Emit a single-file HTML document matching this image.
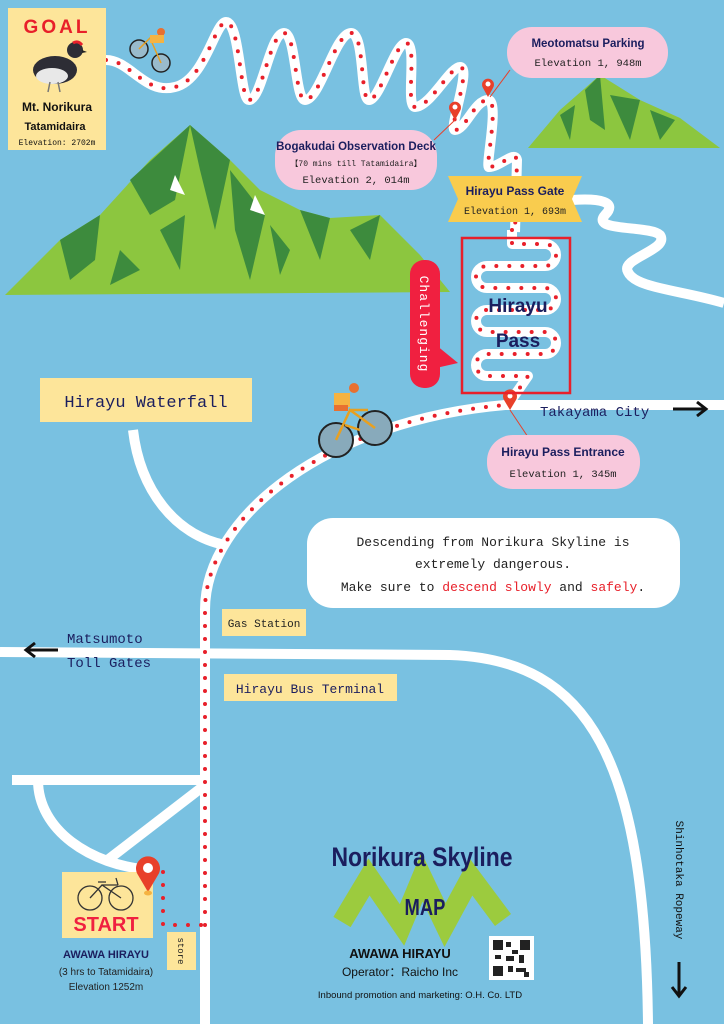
<!DOCTYPE html>
<html><head><meta charset="utf-8">
<style>
html,body{margin:0;padding:0;background:#79c1e1;}
svg{display:block}
.mono{font-family:"Liberation Mono","DejaVu Sans Mono",monospace;}
.sans{font-family:"Liberation Sans","DejaVu Sans",sans-serif;}
</style></head>
<body>
<svg width="724" height="1024" viewBox="0 0 724 1024" xmlns="http://www.w3.org/2000/svg">
<rect width="724" height="1024" fill="#79c1e1"/>

<!-- Mountains -->
<g>
<polygon points="5,295 60,240 100,215 150,160 190,125 230,160 260,190 300,210 330,218 380,215 420,255 450,292" fill="#8cc63f"/>
<polygon points="130,180 190,125 175,200 150,215" fill="#3d8b3d"/>
<polygon points="190,125 230,160 215,230 200,170" fill="#3d8b3d"/>
<polygon points="230,170 265,215 250,280 235,230" fill="#3d8b3d"/>
<polygon points="60,240 100,215 95,260 70,280" fill="#3d8b3d"/>
<polygon points="300,210 330,218 320,260" fill="#3d8b3d"/>
<polygon points="160,230 185,215 180,270" fill="#3d8b3d"/>
<polygon points="350,230 380,215 370,260" fill="#3d8b3d"/>
<polygon points="120,250 140,270 110,285" fill="#3d8b3d"/>
<polygon points="270,225 290,250 280,275" fill="#3d8b3d"/>
<polygon points="175,175 185,195 170,190" fill="#fff"/>
<polygon points="255,195 265,215 250,210" fill="#fff"/>
<polygon points="528,148 560,110 600,75 640,100 680,118 720,148" fill="#8cc63f"/>
<polygon points="585,90 600,75 605,130 590,120" fill="#3d8b3d"/>
<polygon points="610,95 640,100 630,140" fill="#3d8b3d"/>
<polygon points="560,115 575,105 570,140" fill="#3d8b3d"/>
<polygon points="650,110 675,120 660,140" fill="#3d8b3d"/>
</g>

<!-- Roads -->
<g fill="none" stroke="#fff" stroke-width="10" stroke-linecap="butt" stroke-linejoin="round">
<path d="M205,1024 L205,610 C205,515 330,420 505,405 L724,405"/>
<path d="M0,652 L450,655 C590,660 645,760 648,1024"/>
<path d="M12,780 L205,780"/>
<path d="M38,780 C38,830 90,865 150,870"/>
<path d="M205,785 L105,862"/>
<path d="M133,430 C140,490 175,535 225,545"/>
<path d="M572,200 C600,198 618,202 605,215 C590,232 650,225 660,235 C670,250 620,258 628,272 C635,288 680,290 724,303"/>
<path d="M106,60 C130,60 145,95 175,87 C205,80 215,22 226,22 C240,22 240,100 249,100 C262,100 270,33 284,33 C296,33 295,100 305,100 C320,100 335,33 351,33 C365,33 360,100 369,100 C380,100 395,43 406,43 C418,43 405,107 415,107 C430,107 450,67 460,67 C472,67 448,130 455,130 C465,130 475,100 488,100 C500,100 485,167 489,167 C500,167 515,150 517,160 L515,232"/>
<path d="M512,230 V244 H545 A11,11 0 0 1 545,266 H487 A11,11 0 0 0 487,288 H545 A11,11 0 0 1 545,310 H487 A11,11 0 0 0 487,332 H545 A11,11 0 0 1 545,354 H487 A11,11 0 0 0 487,376 H528 L510,402"/>
</g>
<!-- red dots -->
<g fill="none" stroke="#e8202a" stroke-width="4" stroke-linecap="round" stroke-dasharray="0 13">
<path d="M205,925 L205,610 C205,515 330,420 505,405"/>
<path d="M163,872 L163,925 L205,925"/>
<path d="M106,60 C130,60 145,95 175,87 C205,80 215,22 226,22 C240,22 240,100 249,100 C262,100 270,33 284,33 C296,33 295,100 305,100 C320,100 335,33 351,33 C365,33 360,100 369,100 C380,100 395,43 406,43 C418,43 405,107 415,107 C430,107 450,67 460,67 C472,67 448,130 455,130 C465,130 475,100 488,100 C500,100 485,167 489,167 C500,167 515,150 517,160 L515,232"/>
<path d="M512,230 V244 H545 A11,11 0 0 1 545,266 H487 A11,11 0 0 0 487,288 H545 A11,11 0 0 1 545,310 H487 A11,11 0 0 0 487,332 H545 A11,11 0 0 1 545,354 H487 A11,11 0 0 0 487,376 H528 L510,402"/>
</g>

<!-- GOAL box -->
<rect x="8" y="8" width="98" height="142" fill="#fde59a"/>
<text x="57" y="33" text-anchor="middle" class="sans" font-size="19" font-weight="bold" fill="#e8202a" letter-spacing="3">GOAL</text>
<ellipse cx="55" cy="70" rx="22" ry="14" fill="#2d2d35"/>
<ellipse cx="52" cy="76" rx="16" ry="8" fill="#e8e8e8"/>
<circle cx="75" cy="50" r="8" fill="#2d2d35"/>
<path d="M73,43 q5,-3 9,2" stroke="#e8202a" stroke-width="3" fill="none"/>
<path d="M82,50 l5,2 -5,1z" fill="#222"/>
<line x1="50" y1="82" x2="48" y2="92" stroke="#777" stroke-width="1.5"/>
<line x1="58" y1="82" x2="60" y2="92" stroke="#777" stroke-width="1.5"/>
<text x="57" y="111" text-anchor="middle" class="sans" font-size="12" font-weight="bold" fill="#111">Mt. Norikura</text>
<text x="55" y="130" text-anchor="middle" class="sans" font-size="11" font-weight="bold" fill="#111">Tatamidaira</text>
<text x="57" y="145" text-anchor="middle" class="mono" font-size="8" fill="#111">Elevation: 2702m</text>

<!-- small cyclist top -->
<g stroke="#222" stroke-width="1.5" fill="none">
<circle cx="139" cy="49" r="9" fill="#9bc"/><circle cx="161" cy="63" r="9" fill="#9bc"/>
<path d="M139,49 L150,38 L161,63 M150,38 L158,40" stroke="#e8a020"/>
</g>
<circle cx="161" cy="32" r="4" fill="#e87030"/><rect x="150" y="35" width="14" height="8" fill="#f5b342"/>

<!-- pins -->
<g fill="#e8402a">
<path d="M455,120 l-5,-9 a6,6 0 1 1 10,0z"/><circle cx="455" cy="107" r="2.5" fill="#fff"/>
<path d="M488,97 l-5,-9 a6,6 0 1 1 10,0z"/><circle cx="488" cy="84" r="2.5" fill="#fff"/>
<path d="M510,410 l-6,-10 a7,7 0 1 1 12,0z"/><circle cx="510" cy="396" r="2.5" fill="#fff"/>
</g>
<line x1="455" y1="120" x2="434" y2="140" stroke="#e8402a" stroke-width="1"/>
<line x1="490" y1="97" x2="510" y2="70" stroke="#e8402a" stroke-width="1"/>
<line x1="510" y1="410" x2="530" y2="440" stroke="#e8402a" stroke-width="1"/>

<!-- Meotomatsu -->
<rect x="507" y="27" width="161" height="51" rx="25" fill="#f8c8dc"/>
<text x="588" y="47" text-anchor="middle" class="sans" font-size="11.5" font-weight="bold" fill="#1b1e5e">Meotomatsu Parking</text>
<text x="588" y="66" text-anchor="middle" class="mono" font-size="10.5" fill="#222">Elevation 1, 948m</text>

<!-- Bogakudai -->
<rect x="275" y="130" width="162" height="60" rx="26" fill="#f8c8dc"/>
<text x="356" y="150" text-anchor="middle" class="sans" font-size="11.5" font-weight="bold" fill="#1b1e5e">Bogakudai Observation Deck</text>
<text x="356" y="166" text-anchor="middle" class="mono" font-size="8" fill="#222">【70 mins till Tatamidaira】</text>
<text x="356" y="183" text-anchor="middle" class="mono" font-size="10.5" fill="#222">Elevation 2, 014m</text>

<!-- Gate ribbon -->
<polygon points="448,176 582,176 572,199 582,222 448,222 458,199" fill="#f9cc4e"/>
<text x="515" y="195" text-anchor="middle" class="sans" font-size="12" font-weight="bold" fill="#1b1e5e">Hirayu Pass Gate</text>
<text x="515" y="214" text-anchor="middle" class="mono" font-size="10" fill="#222">Elevation 1, 693m</text>

<!-- Hirayu pass box -->
<rect x="462" y="238" width="108" height="155" fill="none" stroke="#e8202a" stroke-width="2.5"/>
<text x="518" y="312" text-anchor="middle" class="sans" font-size="19" font-weight="bold" fill="#1b1e5e">Hirayu</text>
<text x="518" y="347" text-anchor="middle" class="sans" font-size="19" font-weight="bold" fill="#1b1e5e">Pass</text>

<!-- Challenging -->
<rect x="410" y="260" width="30" height="128" rx="14" fill="#f02040"/>
<polygon points="436,345 458,363 436,368" fill="#f02040"/>
<text transform="translate(420,324) rotate(90)" text-anchor="middle" class="mono" font-size="13" fill="#fff" letter-spacing="1">Challenging</text>

<!-- Waterfall -->
<rect x="40" y="378" width="212" height="44" fill="#fde59a"/>
<text x="146" y="407" text-anchor="middle" class="mono" font-size="17" fill="#1b1e5e">Hirayu Waterfall</text>

<!-- Takayama -->
<text x="540" y="416" class="mono" font-size="14" fill="#1b1e5e">Takayama City</text>
<path d="M673,409 H705 M697,402 L706,409 L697,416" stroke="#111" stroke-width="3" fill="none"/>

<!-- Entrance -->
<rect x="487" y="435" width="153" height="54" rx="26" fill="#f8c8dc"/>
<text x="563" y="456" text-anchor="middle" class="sans" font-size="12" font-weight="bold" fill="#1b1e5e">Hirayu Pass Entrance</text>
<text x="563" y="477" text-anchor="middle" class="mono" font-size="10.5" fill="#222">Elevation 1, 345m</text>

<!-- big cyclist -->
<g stroke="#222" stroke-width="2" fill="none">
<circle cx="336" cy="440" r="17" fill="#8ab"/><circle cx="375" cy="428" r="17" fill="#8ab"/>
<path d="M336,440 L350,410 L375,428 M350,410 L368,410 M345,425 L360,430" stroke="#e8a020" stroke-width="2.5"/>
</g>
<circle cx="354" cy="388" r="5" fill="#e87030"/>
<rect x="334" y="393" width="16" height="14" fill="#f5b342"/>
<rect x="334" y="405" width="14" height="6" fill="#e87030"/>

<!-- Notice -->
<rect x="307" y="518" width="373" height="90" rx="26" fill="#fff"/>
<text x="493" y="546" text-anchor="middle" class="mono" font-size="13" fill="#222">Descending from Norikura Skyline is</text>
<text x="493" y="568" text-anchor="middle" class="mono" font-size="13" fill="#222">extremely dangerous.</text>
<text x="493" y="591" text-anchor="middle" class="mono" font-size="13" fill="#222">Make sure to <tspan fill="#e8202a">descend slowly</tspan> and <tspan fill="#e8202a">safely</tspan>.</text>

<!-- Gas / bus -->
<rect x="222" y="609" width="84" height="27" fill="#fde59a"/>
<text x="264" y="627" text-anchor="middle" class="mono" font-size="11" fill="#222">Gas Station</text>
<rect x="224" y="674" width="173" height="27" fill="#fde59a"/>
<text x="310" y="693" text-anchor="middle" class="mono" font-size="13" fill="#1b1e5e">Hirayu Bus Terminal</text>

<!-- Matsumoto -->
<text x="67" y="643" class="mono" font-size="14" fill="#1b1e5e">Matsumoto</text>
<text x="67" y="667" class="mono" font-size="14" fill="#1b1e5e">Toll Gates</text>
<path d="M58,650 H27 M35,643 L26,650 L35,657" stroke="#111" stroke-width="3" fill="none"/>

<!-- Start -->
<rect x="62" y="872" width="91" height="66" fill="#fde59a"/>
<g stroke="#333" stroke-width="1.3" fill="none">
<circle cx="90" cy="898" r="12"/><circle cx="121" cy="898" r="12"/>
<path d="M90,898 L102,885 L121,898 M102,885 L118,885 M98,882 H106 M118,885 L116,878"/>
</g>
<text x="106" y="931" text-anchor="middle" class="sans" font-size="20" font-weight="bold" fill="#f02040">START</text>
<path d="M148,892 l-10,-17 a12,12 0 1 1 20,0z" fill="#e8402a"/>
<circle cx="148" cy="868" r="5" fill="#fff"/>
<ellipse cx="148" cy="893" rx="4" ry="2.5" fill="#f5b342"/>
<rect x="167" y="932" width="29" height="38" fill="#fde59a"/>
<text transform="translate(178,951) rotate(90)" text-anchor="middle" class="mono" font-size="9" fill="#222">store</text>
<text x="106" y="958" text-anchor="middle" class="sans" font-size="11" font-weight="bold" fill="#1b1e5e">AWAWA HIRAYU</text>
<text x="106" y="975" text-anchor="middle" class="sans" font-size="10" fill="#222">(3 hrs to Tatamidaira)</text>
<text x="106" y="990" text-anchor="middle" class="sans" font-size="10" fill="#222">Elevation 1252m</text>

<!-- Title -->
<polyline points="342,922 369,877 402,925 422,877 445,925 471,877 503,920" fill="none" stroke="#9ccb3e" stroke-width="20" stroke-linejoin="miter"/>
<text x="422" y="866" text-anchor="middle" class="sans" font-size="27" font-weight="bold" fill="#1b1e5e" transform="translate(422,866) scale(0.85,1) translate(-422,-866)">Norikura Skyline</text>
<text x="425" y="915" text-anchor="middle" class="sans" font-size="23" font-weight="bold" fill="#1b1e5e" transform="translate(425,915) scale(0.8,1) translate(-425,-915)">MAP</text>
<text x="400" y="958" text-anchor="middle" class="sans" font-size="13" font-weight="bold" fill="#111">AWAWA HIRAYU</text>
<text x="400" y="976" text-anchor="middle" class="sans" font-size="12" fill="#111">Operator：Raicho Inc</text>
<text x="420" y="998" text-anchor="middle" class="sans" font-size="9.5" fill="#111">Inbound promotion and marketing: O.H. Co. LTD</text>
<rect x="489" y="936" width="45" height="44" fill="#fff"/>
<g fill="#222">
<rect x="493" y="940" width="10" height="10"/><rect x="520" y="940" width="10" height="10"/><rect x="493" y="966" width="10" height="10"/>
<rect x="506" y="942" width="5" height="5"/><rect x="512" y="950" width="6" height="4"/><rect x="506" y="956" width="8" height="5"/><rect x="519" y="955" width="5" height="8"/><rect x="508" y="966" width="5" height="6"/><rect x="516" y="968" width="10" height="4"/><rect x="524" y="972" width="5" height="5"/><rect x="495" y="955" width="6" height="4"/>
</g>

<!-- Shinhotaka -->
<text transform="translate(676,880) rotate(90)" text-anchor="middle" class="mono" font-size="11" fill="#111">Shinhotaka Ropeway</text>
<path d="M679,962 V995 M672,987 L679,996 L686,987" stroke="#111" stroke-width="3" fill="none"/>
</svg>
</body></html>
